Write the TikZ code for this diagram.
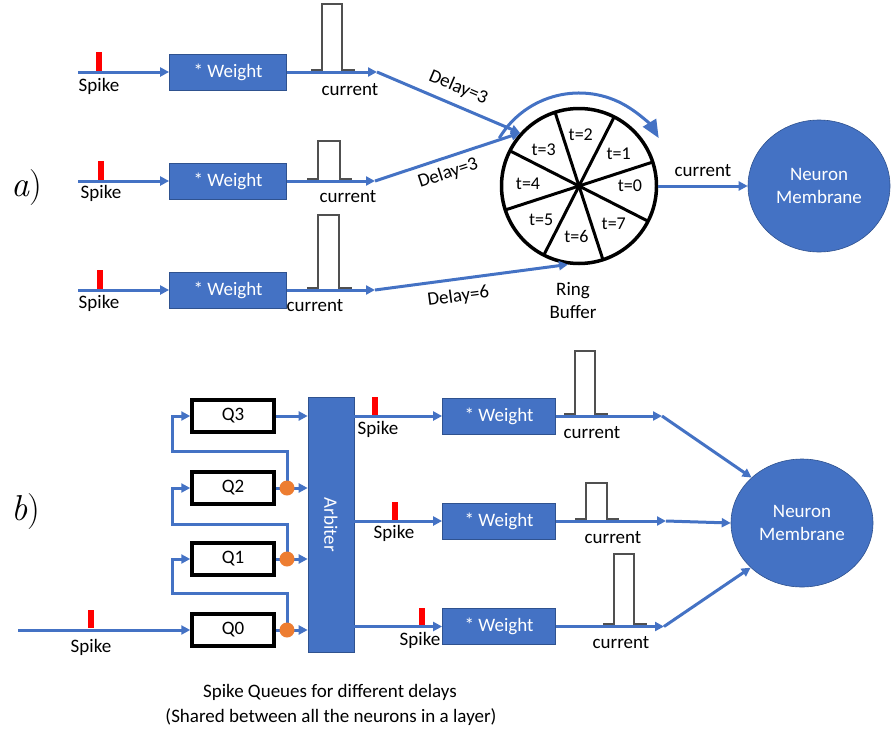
\documentclass[tikz,border=0pt]{standalone}
\usepackage{fontspec}
\setmainfont{Carlito}
\newfontfamily\lmr{Latin Modern Roman}
\usetikzlibrary{arrows.meta,shapes.geometric,calc}
\definecolor{blu}{HTML}{4472C4}
\definecolor{bluedge}{HTML}{2F528F}
\definecolor{orng}{HTML}{ED7D31}
\definecolor{pulsegray}{HTML}{505050}
\begin{document}
\begin{tikzpicture}[x=1pt,y=-1pt,
  txt/.style={font=\fontsize{19}{23}\selectfont, inner sep=0pt},
  partlbl/.style={font=\lmr\fontsize{36}{38}\selectfont, inner sep=0pt},
  conn/.style={draw=blu,line width=3pt},
  arr/.style={-{Triangle[length=9pt,width=9pt]}},
  wbox/.style={draw=bluedge,line width=0.8pt,fill=blu,text=white,minimum width=117pt,minimum height=36pt,inner sep=0pt,font=\fontsize{19}{23}\selectfont},
  qbox/.style={draw=black,line width=3.5pt,fill=white,minimum width=82pt,minimum height=32pt,inner sep=0pt,font=\fontsize{19}{23}\selectfont},
  spk/.style={fill=red,minimum width=6pt,minimum height=19pt,inner sep=0pt},
  pulse/.style={draw=pulsegray,line width=1.5pt},
  dot/.style={circle,fill=orng,minimum size=15pt,inner sep=0pt},
  neuron/.style={ellipse,fill=blu,draw=bluedge,line width=0.6pt,text=white,align=center,inner sep=0pt,font=\fontsize{19}{23}\selectfont},
]
\useasboundingbox (0,0) rectangle (891,731);

% ---------------- part a ----------------
\node[partlbl] (la) at (27,188) {{\itshape a})};

\node[circle,draw=black,line width=3.5pt,minimum size=155pt,inner sep=0pt] (ring) at (579,186) {};
\foreach \a in {18,63,108,153}
  \draw[line width=3pt] ($(ring.center)+(\a:77pt)$) -- ($(ring.center)+(\a+180:77pt)$);
\foreach \t/\a in {0/0,1/39,2/88,3/134,4/178,5/222,6/267,7/313}
  \node[font=\fontsize{18}{20}\selectfont,inner sep=0pt] (t\t) at ($(ring.center)+(\a:51pt)$) {t=\t};
\draw[draw=blu,line width=3pt,-{Triangle[length=18pt,width=15pt]}]
  ($(ring.center)+(149:93pt)$) arc[start angle=149,end angle=31,radius=93pt];
\node[txt,align=center] (rb) at (573,301) {Ring\\Buffer};

\node[neuron,minimum width=142pt,minimum height=132pt] (na) at (819,186) {Neuron\\Membrane};
\draw[conn,arr] (ring.east) -- (na.west) node[txt,midway,above=8pt] (cla) {current};

% row 1
\coordinate (s1) at (78,72);
\node[wbox] (w1) at (228,72) {* Weight};
\draw[conn,arr] (s1) -- (w1.west);
\node[spk] (k1) at (99,61.5) {};
\node[txt] (sl1) at (99,86) {Spike};
\draw[pulse] (311,70) -- (322,70) -- (322,4) -- (342,4) -- (342,70) -- (355,70);
\coordinate (c1) at (377,72);
\draw[conn,arr] (w1.east) -- (c1);
\node[txt] (cl1) at (350,90) {current};
\draw[conn,arr] (c1) -- (ring.138) node[txt,pos=0.52,sloped,above=8pt] (dl1) {Delay=3};

% row 2
\coordinate (s2) at (78,181);
\node[wbox] (w2) at (228,181) {* Weight};
\draw[conn,arr] (s2) -- (w2.west);
\node[spk] (k2) at (101,170.5) {};
\node[txt] (sl2) at (101,193) {Spike};
\draw[pulse] (307,179) -- (318,179) -- (318,141) -- (340,141) -- (340,179) -- (352,179);
\coordinate (c2) at (375,181);
\draw[conn,arr] (w2.east) -- (c2);
\node[txt] (cl2) at (348,197) {current};
\draw[conn,arr] (c2) -- (ring.138) node[txt,pos=0.47,sloped,below=6pt] (dl2) {Delay=3};

% row 3
\coordinate (s3) at (78,290);
\node[wbox] (w3) at (228,290) {* Weight};
\draw[conn,arr] (s3) -- (w3.west);
\node[spk] (k3) at (99.5,279.5) {};
\node[txt] (sl3) at (99,303) {Spike};
\draw[pulse] (307,288) -- (318,288) -- (318,215) -- (339,215) -- (339,288) -- (352,288);
\coordinate (c3) at (375,290);
\draw[conn,arr] (w3.east) -- (c3);
\node[txt] (cl3) at (315,306) {current};
\draw[conn,arr] (c3) -- (ring.262) node[txt,pos=0.42,sloped,below=8pt] (dl3) {Delay=6};

% ---------------- part b ----------------
\node[partlbl] (lb) at (26,512) {{\itshape b})};

\node[fill=blu,draw=bluedge,line width=0.6pt,minimum width=46pt,minimum height=255pt,inner sep=0pt] (arb) at (331,524.5) {};
\node[txt,text=white,rotate=-90] (arbt) at (arb.center) {Arbiter};

\node[qbox] (q3) at (233,416) {Q3};
\node[qbox] (q2) at (233,488) {Q2};
\node[qbox] (q1) at (233,559) {Q1};
\node[qbox] (q0) at (233,630) {Q0};

\foreach \q in {q0,q1,q2,q3}
  \draw[conn,arr] (\q.east) -- (\q.east -| arb.west);

\coordinate (f0) at (172,593);
\coordinate (f1) at (172,524);
\coordinate (f2) at (172,451);
\coordinate (d0c) at (287,630);
\coordinate (d1c) at (287,559);
\coordinate (d2c) at (287,488);
\draw[conn,arr] (d0c) |- (f0) |- (q1.west);
\draw[conn,arr] (d1c) |- (f1) |- (q2.west);
\draw[conn,arr] (d2c) |- (f2) |- (q3.west);
\node[dot] (d0) at (d0c) {};
\node[dot] (d1) at (d1c) {};
\node[dot] (d2) at (d2c) {};

\coordinate (in0) at (18,630);
\draw[conn,arr] (in0) -- (q0.west);
\node[spk,minimum height=18pt] (k0) at (91,619) {};
\node[txt] (sl0) at (91,647) {Spike};

\node[neuron,minimum width=142pt,minimum height=128pt] (nb) at (802,523) {Neuron\\Membrane};

% output row 1
\node[wbox,minimum width=113pt] (wb1) at (499,416) {* Weight};
\draw[conn,arr] (arb.east |- wb1.west) -- (wb1.west);
\node[spk,minimum height=18pt] (kb1) at (374.5,406) {};
\node[txt] (slb1) at (378,429) {Spike};
\draw[pulse] (564,414) -- (575,414) -- (575,351) -- (595,351) -- (595,414) -- (608,414);
\coordinate (e1) at (662,416);
\draw[conn,arr] (wb1.east) -- (e1);
\draw[conn,arr] (e1) -- (nb.138);
\node[txt] (clb1) at (592,433) {current};

% output row 2
\node[wbox,minimum width=113pt] (wb2) at (499,521) {* Weight};
\draw[conn,arr] (arb.east |- wb2.west) -- (wb2.west);
\node[spk,minimum height=18pt] (kb2) at (394.5,511) {};
\node[txt] (slb2) at (394,533) {Spike};
\draw[pulse] (575,519) -- (586,519) -- (586,483) -- (607,483) -- (607,519) -- (619,519);
\coordinate (e2) at (666,521);
\draw[conn,arr] (wb2.east) -- (e2);
\draw[conn,arr] (e2) -- (nb.west);
\node[txt] (clb2) at (613,538) {current};

% output row 3
\node[wbox,minimum width=113pt] (wb3) at (499,626.5) {* Weight};
\draw[conn,arr] (arb.east |- wb3.west) -- (wb3.west);
\node[spk,minimum height=17pt] (kb3) at (422,616) {};
\node[txt] (slb3) at (420,640) {Spike};
\draw[pulse] (603,624) -- (614,624) -- (614,554) -- (634,554) -- (634,624) -- (647,624);
\coordinate (e3) at (664,626.5);
\draw[conn,arr] (wb3.east) -- (e3);
\draw[conn,arr] (e3) -- (nb.221);
\node[txt] (clb3) at (621,643) {current};

% caption
\node[txt] (cap1) at (330,692) {Spike Queues for different delays};
\node[txt] (cap2) at (331,717) {(Shared between all the neurons in a layer)};
\end{tikzpicture}
\end{document}
